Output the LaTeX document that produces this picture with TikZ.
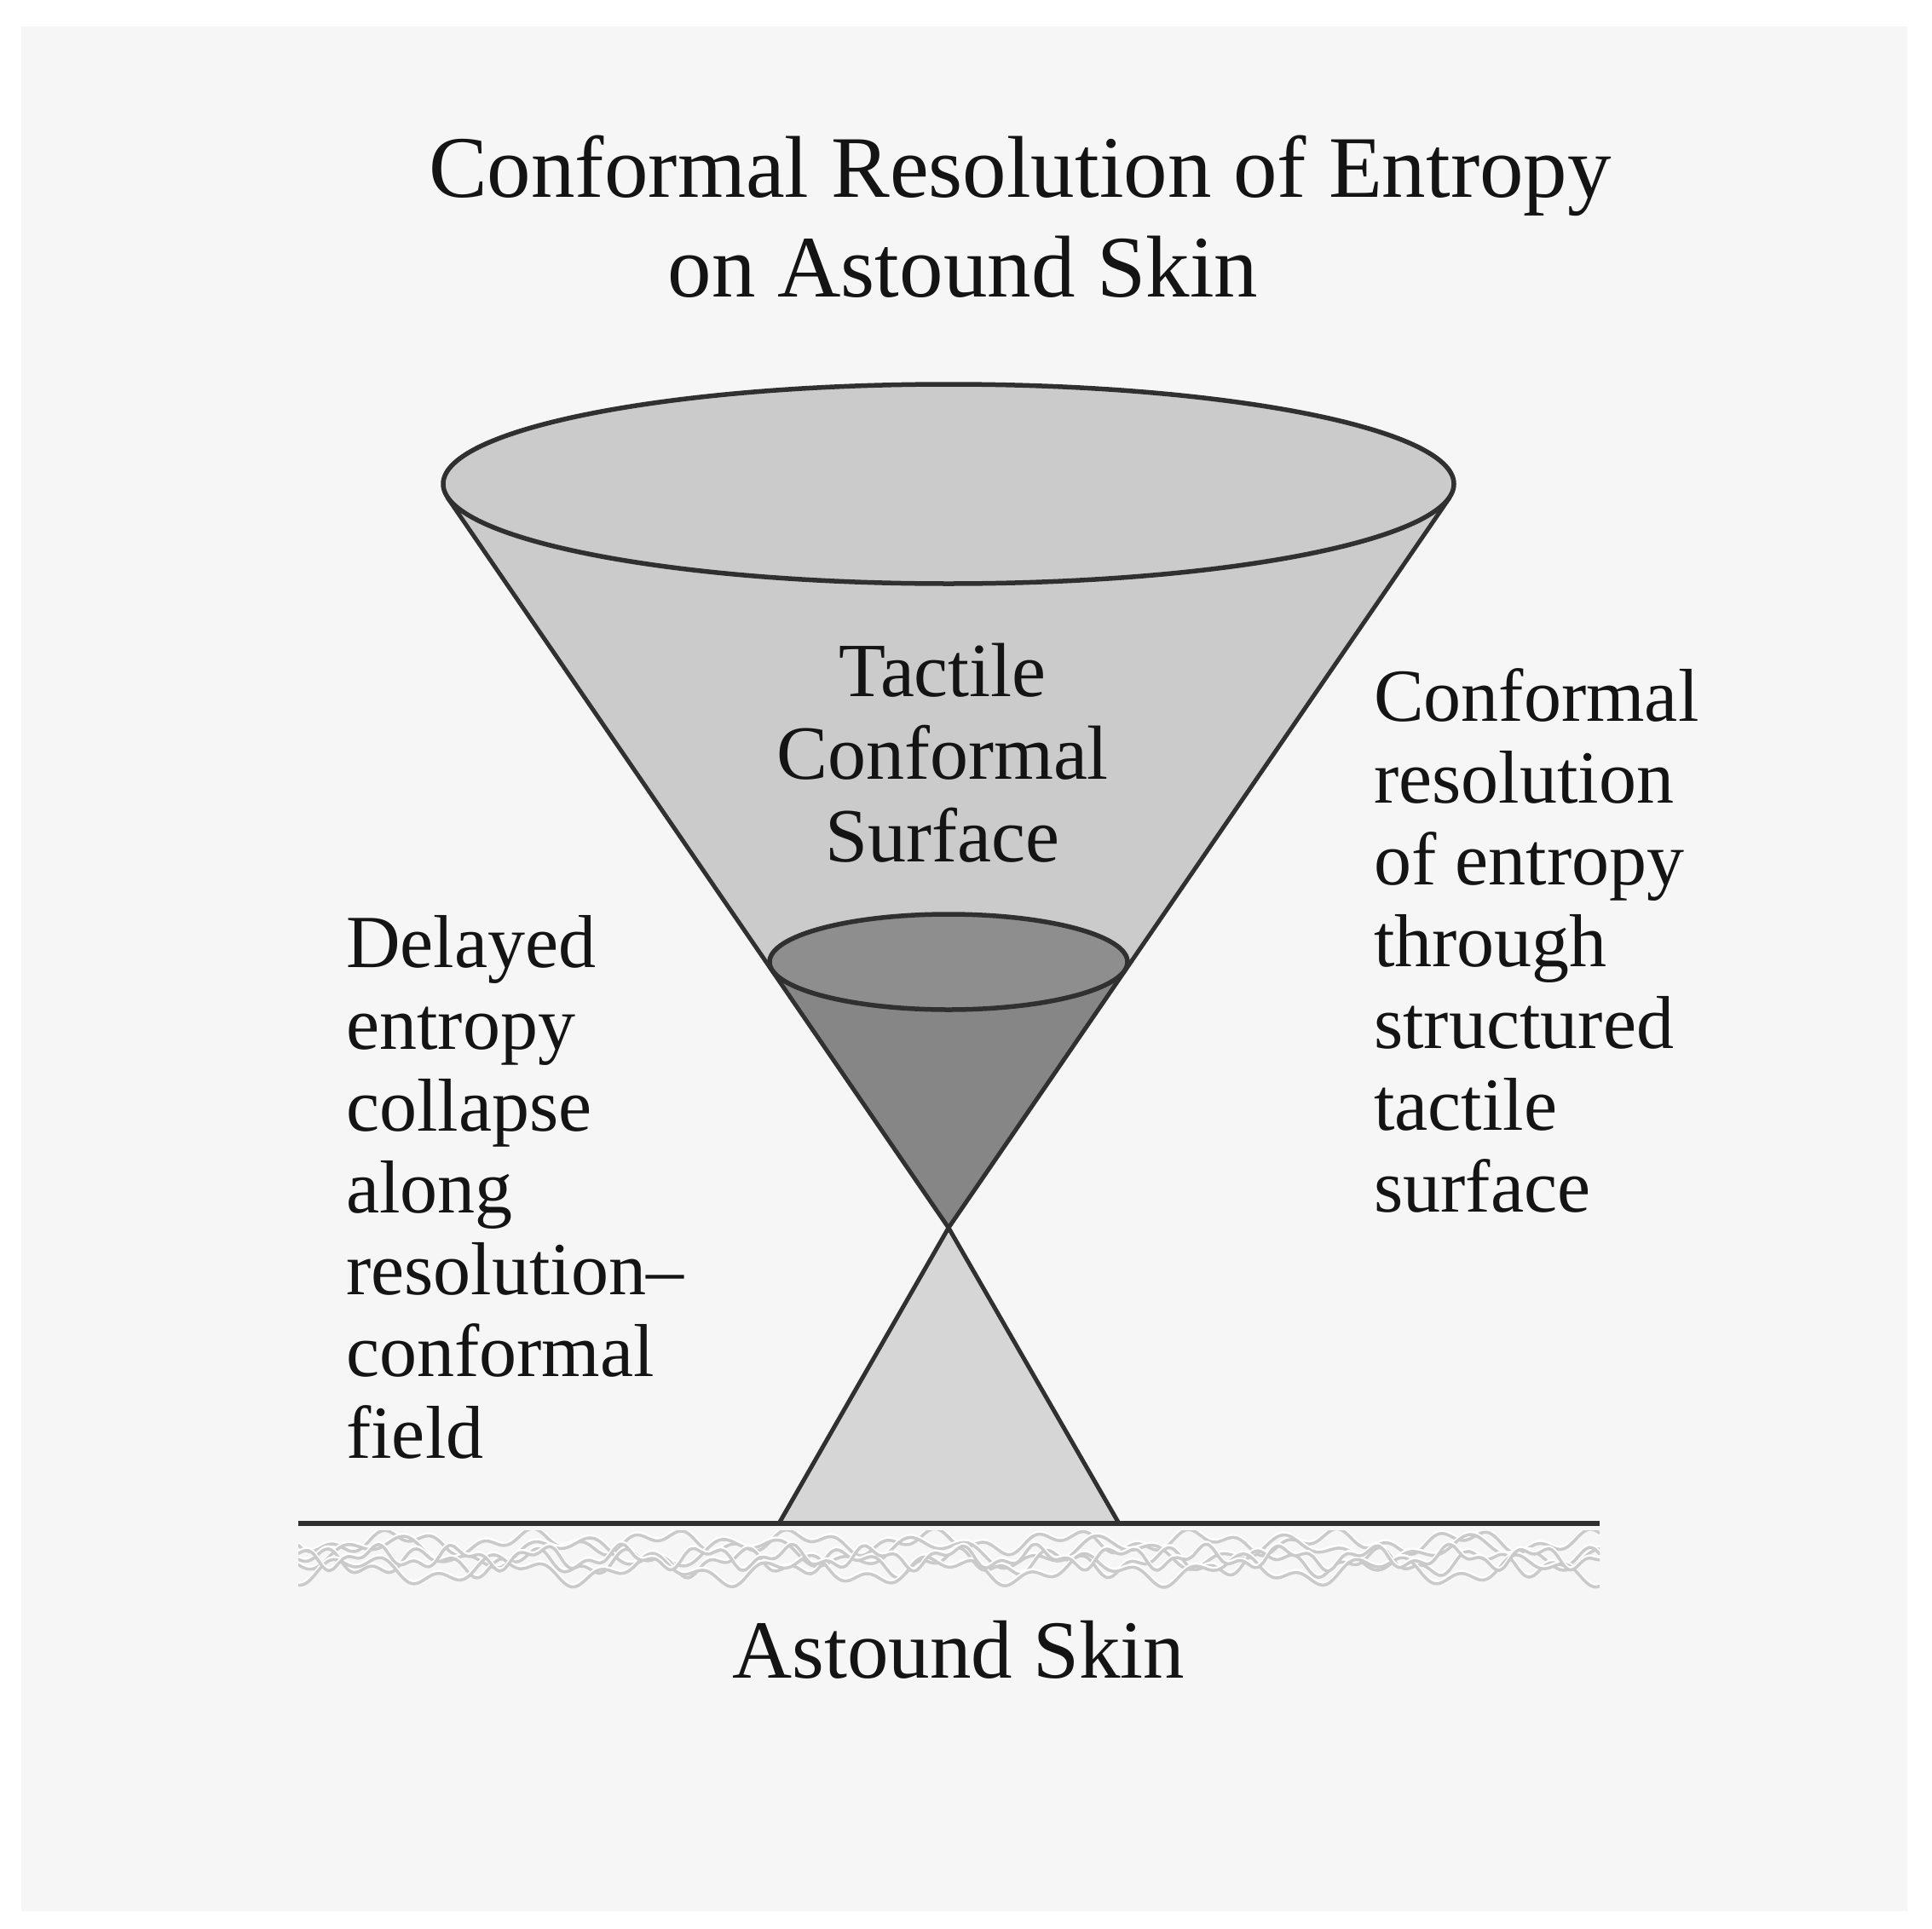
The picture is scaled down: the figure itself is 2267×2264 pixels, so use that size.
\documentclass[tikz,border=0pt]{standalone}
\usepackage{fontspec}
\setmainfont{Liberation Serif}
\definecolor{panel}{HTML}{F6F6F6}
\definecolor{conefill}{HTML}{CBCBCB}
\definecolor{darkfill}{HTML}{868686}
\definecolor{darkell}{HTML}{8E8E8E}
\definecolor{lowfill}{HTML}{D6D6D6}
\definecolor{outline}{HTML}{303030}
\definecolor{ink}{HTML}{141414}
\definecolor{squig}{HTML}{CACACA}
\newcommand{\cblock}[1]{\vtop{\halign{\hfil##\hfil\cr #1\cr}}}
\newcommand{\lblock}[1]{\vtop{\halign{##\hfil\cr #1\cr}}}
\begin{document}
\begin{tikzpicture}[x=1pt,y=-1pt,line join=round,
  every node/.style={inner sep=0pt,text=ink},
  outl/.style={draw=outline,line width=5pt},
  rim/.style={draw=outline,line width=5.5pt},
  titlefont/.style={font=\fontsize{103}{110}\selectfont},
  bodyfont/.style={font=\fontsize{88}{96}\selectfont},
  surffont/.style={font=\fontsize{90}{97}\selectfont},
  skinfont/.style={font=\fontsize{97}{105}\selectfont},
  squigline/.style={draw=squig,line width=3.5pt,line cap=round},
  squiglight/.style={draw=white,line width=3.5pt,line cap=round}]
\useasboundingbox (0,0) rectangle (2267,2264);
\fill[white] (0,0) rectangle (2267,2264);
\fill[panel] (25,31) rectangle (2238,2243);

% key points
\coordinate (apex) at (1113,1441);
\coordinate (tL) at (525,584);
\coordinate (tR) at (1701,584);
\coordinate (topc) at (1113,568);
\coordinate (smc) at (1113,1129);
\coordinate (sL) at (906,1139);
\coordinate (sR) at (1320,1139);
\coordinate (bL) at (914,1788);
\coordinate (bR) at (1313,1788);
\coordinate (gL) at (350,1788);
\coordinate (gR) at (1877,1788);

% upper cone body
\fill[conefill] (tL) -- (apex) -- (tR) -- cycle;
\fill[conefill] (topc) ellipse [x radius=593pt, y radius=117pt];
% dark lower part
\fill[darkfill] (sL) -- (apex) -- (sR) -- cycle;
\filldraw[fill=darkell,rim] (smc) ellipse [x radius=210pt, y radius=56pt];
% lower cone
\fill[lowfill] (apex) -- (bL) -- (bR) -- cycle;
% cone sides
\draw[outl] (tL) -- (apex) -- (bR);
\draw[outl] (tR) -- (apex) -- (bL);
% top ellipse rim
\draw[rim] (topc) ellipse [x radius=593pt, y radius=117pt];

% skin texture
\begin{scope}
\clip (350,1796) rectangle (1877,1870);
\foreach \b/\a/\f/\p/\c/\g/\q in {1810/9/2.3/0/7/6.1/30, 1822/13/1.7/90/8/4.9/10, 1834/11/2.9/200/7/7.3/0, 1843/12/2.1/120/8/5.7/60, 1828/10/3.7/300/6/8.9/140}{
  \draw[squiglight] plot[smooth,domain=0:1527,samples=260] ({\x+350},{\b-2.5+\a*sin(\x*\f+\p)+\c*sin(\x*\g+\q)});
  \draw[squigline] plot[smooth,domain=0:1527,samples=260] ({\x+350},{\b+\a*sin(\x*\f+\p)+\c*sin(\x*\g+\q)});
}
\end{scope}
% ground line
\draw[draw=outline,line width=6pt] (gL) -- (gR);

% texts
\node[titlefont,anchor=base] (title1) at (1197,231) {Conformal Resolution of Entropy};
\node[titlefont,anchor=base] (title2) at (1130,348) {on Astound Skin};
\node[surffont,anchor=base] (surface) at (1106,817) {\cblock{Tactile\cr Conformal\cr Surface}};
\node[bodyfont,anchor=base west] (left) at (406,1135) {\lblock{Delayed\cr entropy\cr collapse\cr along\cr resolution–\cr conformal\cr field}};
\node[bodyfont,anchor=base west] (right) at (1612,846) {\lblock{Conformal\cr resolution\cr of entropy\cr through\cr structured\cr tactile\cr surface}};
\node[skinfont,anchor=base] (skin) at (1125,1969) {Astound Skin};
\end{tikzpicture}
\end{document}
